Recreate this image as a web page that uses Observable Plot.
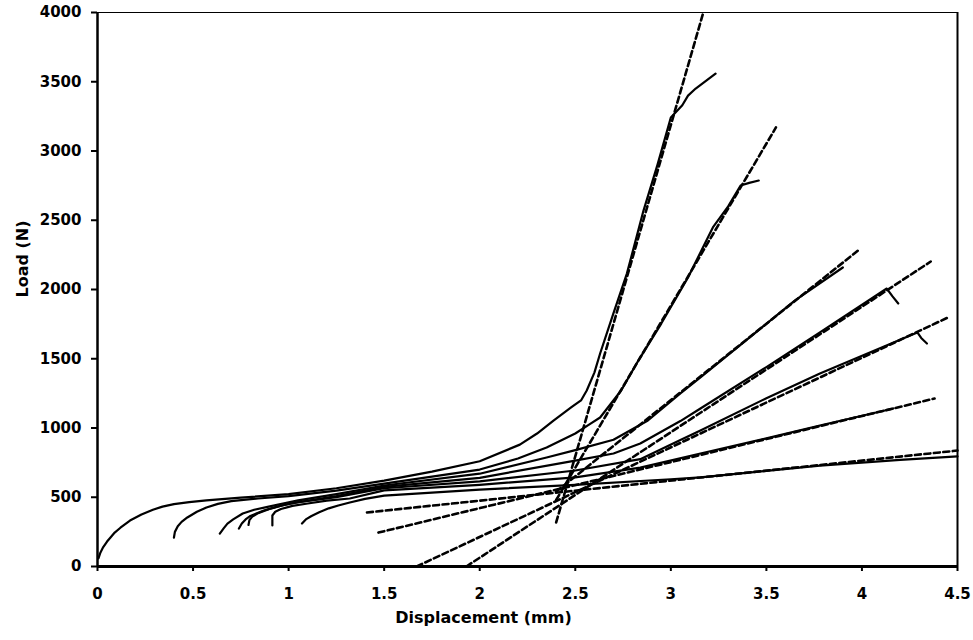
<!DOCTYPE html>
<html>
<head>
<meta charset="utf-8">
<script src="https://cdn.jsdelivr.net/npm/d3@7"></script>
<script src="https://cdn.jsdelivr.net/npm/@observablehq/plot@0.6"></script>
<style>
  html, body { margin: 0; padding: 0; background: #fff; }
</style>
</head>
<body>
<div id="chart"></div>
<script>
// Measured load–displacement curves (displacement mm, load N)
const specimen1 = [[0.005,58],[0.015,100],[0.03,140],[0.05,180],[0.068,209],[0.09,245],[0.12,280],[0.17,332],[0.23,375],[0.29,410],[0.34,432],[0.40,450],[0.48,465],[0.57,477],[0.75,497],[1.0,522],[1.25,565],[1.5,620],[1.75,685],[2.0,760],[2.21,880],[2.3,960],[2.386,1054],[2.48,1150],[2.53,1199],[2.56,1271],[2.6,1400],[2.63,1538],[2.7,1830],[2.77,2115],[2.857,2570],[2.93,2900],[3.0,3242],[3.06,3330],[3.09,3400],[3.13,3451],[3.234,3559]];
const specimen2 = [[0.40,209],[0.405,250],[0.42,290],[0.44,322],[0.47,354],[0.52,395],[0.57,426],[0.63,452],[0.70,472],[0.84,491],[1.0,508],[1.25,548],[1.5,598],[2.0,700],[2.2,780],[2.35,859],[2.5,960],[2.58,1032],[2.63,1076],[2.74,1271],[2.83,1487],[2.95,1754],[3.09,2087],[3.22,2448],[3.3,2600],[3.365,2751],[3.41,2770],[3.46,2787]];
const specimen3 = [[0.64,238],[0.66,275],[0.68,310],[0.71,340],[0.76,383],[0.82,410],[0.89,430],[0.97,455],[1.05,477],[1.25,522],[1.5,585],[2.0,670],[2.35,787],[2.5,840],[2.70,915],[2.88,1054],[3.05,1250],[3.155,1365],[3.4,1640],[3.65,1921],[3.90,2159]];
const specimen4 = [[0.74,274],[0.755,310],[0.775,340],[0.80,365],[0.87,404],[0.94,432],[1.01,455],[1.25,508],[1.5,575],[2.0,640],[2.5,765],[2.70,816],[2.84,888],[3.05,1050],[3.155,1141],[3.5,1440],[3.78,1690],[4.13,2007],[4.16,1950],[4.19,1899]];
const specimen5 = [[0.79,300],[0.795,335],[0.81,360],[0.84,385],[0.9,415],[0.97,442],[1.05,465],[1.25,500],[1.5,565],[2.0,615],[2.5,693],[2.84,775],[3.05,913],[3.155,982],[3.5,1215],[3.78,1393],[4.29,1690],[4.31,1650],[4.34,1610]];
const specimen6 = [[0.915,296],[0.915,368],[0.93,395],[0.96,415],[1.02,438],[1.10,455],[1.2,475],[1.32,491],[1.5,550],[2.0,590],[2.5,643],[2.84,714],[3.155,816],[3.5,925],[3.78,1018],[4.165,1141]];
const specimen7 = [[1.07,310],[1.09,340],[1.12,365],[1.16,392],[1.21,420],[1.26,440],[1.32,462],[1.4,488],[1.5,512],[2.0,555],[2.5,590],[3.0,630],[3.155,643],[3.5,690],[3.78,729],[4.2,770],[4.5,795]];

// Dashed linear fits (start and end points)
const fitStartX = [2.40, 2.40, 2.40, 1.93, 1.67, 1.47, 1.41];
const fitStartY = [318, 480, 540, 0, 0, 245, 390];
const fitEndX   = [3.17, 3.55, 3.98, 4.36, 4.45, 4.38, 4.50];
const fitEndY   = [4000, 3170, 2282, 2202, 1798, 1213, 837];

// Axes
const xTicks = [0, 0.5, 1, 1.5, 2, 2.5, 3, 3.5, 4, 4.5];
const yTicks = [0, 500, 1000, 1500, 2000, 2500, 3000, 3500, 4000];
const xDomain = [0, 4.5];
const yDomain = [0, 4000];
const xLabel = "Displacement (mm)";
const yLabel = "Load (N)";

const specimens = [specimen1, specimen2, specimen3, specimen4, specimen5, specimen6, specimen7];
const curveRows = specimens.flatMap((s, i) => s.map(([x, y]) => ({id: i, x, y})));
const fitRows = fitStartX.flatMap((_, i) => [
  {id: i, x: fitStartX[i], y: fitStartY[i]},
  {id: i, x: fitEndX[i], y: fitEndY[i]}
]);

const chart = Plot.plot({
  width: 973,
  height: 640,
  marginLeft: 97,
  marginRight: 16,
  marginTop: 12,
  marginBottom: 74,
  style: {fontFamily: "'DejaVu Sans', sans-serif", fontWeight: "bold", fontSize: "15px", color: "#000", background: "#fff"},
  x: {domain: xDomain},
  y: {domain: yDomain},
  marks: [
    Plot.line(curveRows, {x: "x", y: "y", z: "id", stroke: "#000", strokeWidth: 2.2, strokeLinejoin: "round"}),
    Plot.line(fitRows, {x: "x", y: "y", z: "id", stroke: "#000", strokeWidth: 2.6, strokeDasharray: "6,3.5"}),
    Plot.ruleY([yDomain[1]], {stroke: "#000", strokeWidth: 1}),
    Plot.ruleX([xDomain[1]], {stroke: "#000", strokeWidth: 2}),
    Plot.ruleX([xDomain[0]], {stroke: "#000", strokeWidth: 2.5}),
    Plot.ruleY([yDomain[0]], {stroke: "#000", strokeWidth: 3}),
    Plot.axisX({ticks: xTicks, tickSize: 5, tickPadding: 17, strokeWidth: 2, label: null, tickFormat: d => String(d)}),
    Plot.axisY({ticks: yTicks, tickSize: 6, tickPadding: 10, strokeWidth: 2, label: null, tickFormat: d => String(d)}),
    Plot.text([xLabel], {frameAnchor: "bottom", dx: -44, dy: 56, fontSize: 16, fontWeight: "bold", fill: "#000"}),
    Plot.text([yLabel], {frameAnchor: "left", dx: -75, dy: 8, rotate: -90, fontSize: 16, fontWeight: "bold", fill: "#000"})
  ]
});
document.getElementById("chart").appendChild(chart);
</script>
</body>
</html>
